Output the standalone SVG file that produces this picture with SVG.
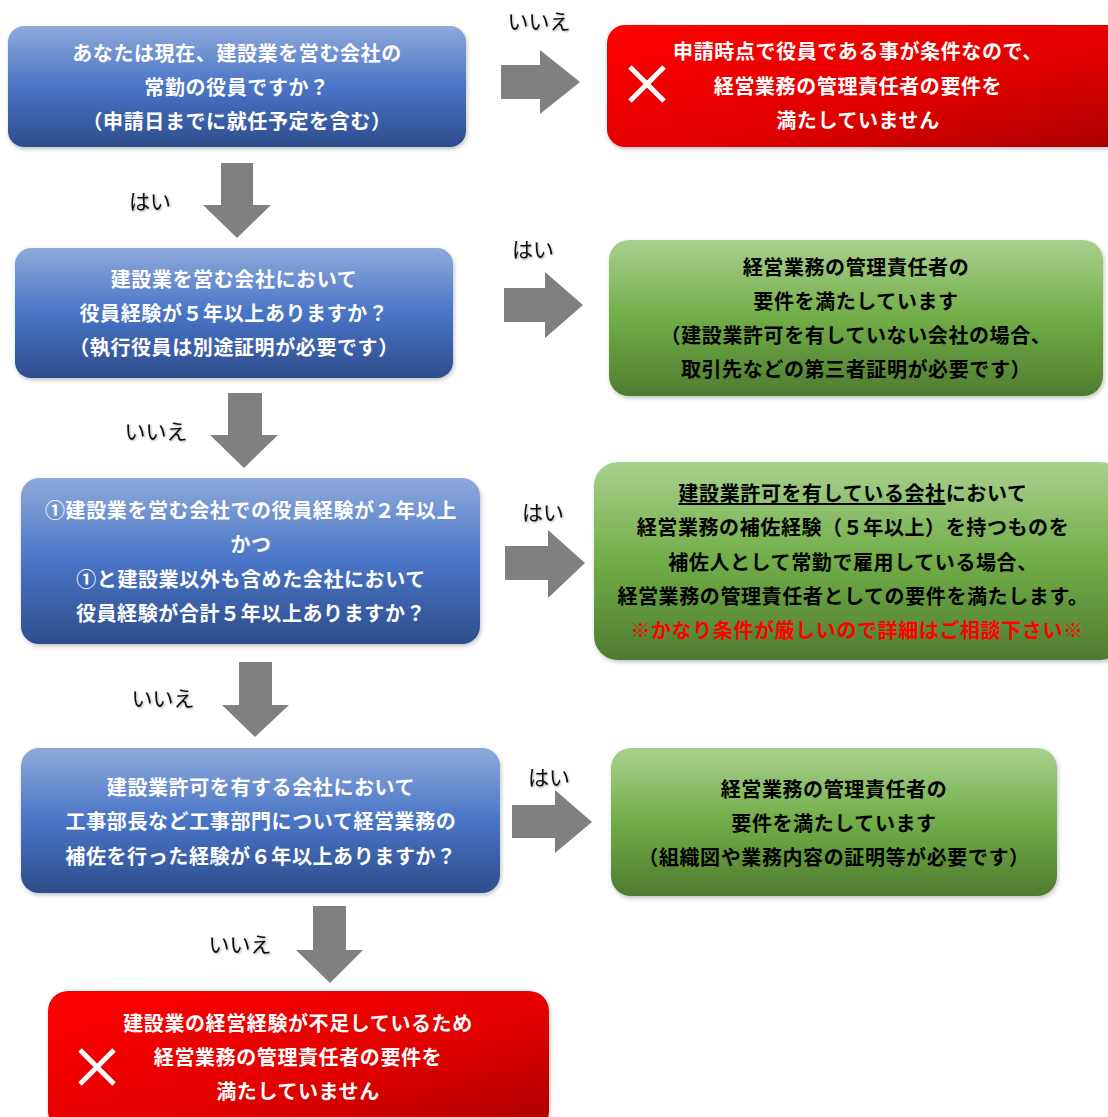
<svg xmlns="http://www.w3.org/2000/svg" width="1108" height="1117" viewBox="0 0 1108 1117">
<defs>
<linearGradient id="gBlue" x1="0" y1="0" x2="0" y2="1">
<stop offset="0" stop-color="#8eaadb"/><stop offset="0.5" stop-color="#4a74c6"/><stop offset="1" stop-color="#2e4d8c"/>
</linearGradient>
<linearGradient id="gGreen" x1="0" y1="0" x2="0" y2="1">
<stop offset="0" stop-color="#a9d18e"/><stop offset="0.5" stop-color="#71ad47"/><stop offset="1" stop-color="#4f7c30"/>
</linearGradient>
<linearGradient id="gRed" x1="0" y1="0" x2="1" y2="1">
<stop offset="0" stop-color="#ff0000"/><stop offset="0.6" stop-color="#e00000"/><stop offset="1" stop-color="#a80000"/>
</linearGradient>
<filter id="sh" x="-5%" y="-5%" width="110%" height="115%">
<feDropShadow dx="1" dy="2" stdDeviation="2" flood-color="#000" flood-opacity="0.25"/>
</filter>
<filter id="tsh" x="-10%" y="-10%" width="120%" height="130%">
<feDropShadow dx="1" dy="1" stdDeviation="0.8" flood-color="#000" flood-opacity="0.35"/>
</filter>
</defs>
<style>
.t{font-family:"Noto Sans CJK JP","Noto Sans",sans-serif;font-size:20px;font-weight:bold;text-anchor:middle;dominant-baseline:central;letter-spacing:0.6px;}
.w{fill:#fff;}
.k{fill:#000;}
.r{fill:#ff0000;}
.lb{font-family:"Noto Sans CJK JP","Noto Sans",sans-serif;font-size:21px;fill:#111;text-anchor:middle;dominant-baseline:central;}
.arr{fill:#808080;}
.x{stroke:#fff;stroke-width:5;}
</style>
<rect width="1108" height="1117" fill="#fff"/>

<g id="connectors">
<polygon class="arr" points="501,65 540,65 540,50 580,82 540,114 540,99 501,99"/>
<polygon class="arr" points="221,163 253,163 253,205 271,205 237,238 203,205 221,205"/>
<polygon class="arr" points="504,288 545,288 545,272 583,305 545,338 545,322 504,322"/>
<polygon class="arr" points="228,393 262,393 262,435 278,435 244,468 210,435 228,435"/>
<polygon class="arr" points="505,546 548,546 548,530 585,563 548,598 548,580 505,580"/>
<polygon class="arr" points="239,662 272,662 272,705 289,705 255,737 222,705 239,705"/>
<polygon class="arr" points="512,805 555,805 555,790 592,822 555,853 555,838 512,838"/>
<polygon class="arr" points="313,906 346,906 346,950 363,950 330,983 296,950 313,950"/>
<text class="lb" x="539" y="20" filter="url(#tsh)">いいえ</text>
<text class="lb" x="150" y="200" filter="url(#tsh)">はい</text>
<text class="lb" x="533" y="248" filter="url(#tsh)">はい</text>
<text class="lb" x="156" y="430" filter="url(#tsh)">いいえ</text>
<text class="lb" x="543" y="511" filter="url(#tsh)">はい</text>
<text class="lb" x="163" y="697" filter="url(#tsh)">いいえ</text>
<text class="lb" x="549" y="776" filter="url(#tsh)">はい</text>
<text class="lb" x="240" y="943" filter="url(#tsh)">いいえ</text>
</g>

<g id="q1">
<rect x="8" y="26" width="458" height="121" rx="16" fill="url(#gBlue)" filter="url(#sh)"/>
<text class="t w" x="237" y="52">あなたは現在、建設業を営む会社の</text>
<text class="t w" x="237" y="86">常勤の役員ですか？</text>
<text class="t w" x="237" y="120">（申請日までに就任予定を含む）</text>
</g>

<g id="ng1">
<rect x="607" y="25" width="520" height="122" rx="18" fill="url(#gRed)" filter="url(#sh)"/>
<line class="x" x1="630" y1="67" x2="664" y2="101"/>
<line class="x" x1="664" y1="67" x2="630" y2="101"/>
<text class="t w" x="858" y="50">申請時点で役員である事が条件なので、</text>
<text class="t w" x="858" y="85">経営業務の管理責任者の要件を</text>
<text class="t w" x="858" y="119">満たしていません</text>
</g>

<g id="q2">
<rect x="15" y="248" width="438" height="130" rx="16" fill="url(#gBlue)" filter="url(#sh)"/>
<text class="t w" x="234" y="278">建設業を営む会社において</text>
<text class="t w" x="234" y="312">役員経験が５年以上ありますか？</text>
<text class="t w" x="234" y="346">（執行役員は別途証明が必要です）</text>
</g>

<g id="ok1">
<rect x="609" y="240" width="494" height="156" rx="20" fill="url(#gGreen)" filter="url(#sh)"/>
<text class="t k" x="856" y="266">経営業務の管理責任者の</text>
<text class="t k" x="856" y="300">要件を満たしています</text>
<text class="t k" x="856" y="334">（建設業許可を有していない会社の場合、</text>
<text class="t k" x="856" y="368">取引先などの第三者証明が必要です）</text>
</g>

<g id="q3">
<rect x="21" y="478" width="459" height="166" rx="18" fill="url(#gBlue)" filter="url(#sh)"/>
<text class="t w" x="251" y="509">①建設業を営む会社での役員経験が２年以上</text>
<text class="t w" x="251" y="543">かつ</text>
<text class="t w" x="251" y="578">①と建設業以外も含めた会社において</text>
<text class="t w" x="251" y="612">役員経験が合計５年以上ありますか？</text>
</g>

<g id="ok2">
<rect x="594" y="462" width="530" height="198" rx="24" fill="url(#gGreen)" filter="url(#sh)"/>
<text class="t k" x="853" y="492"><tspan text-decoration="underline">建設業許可を有している会社</tspan>において</text>
<text class="t k" x="853" y="526">経営業務の補佐経験（５年以上）を持つものを</text>
<text class="t k" x="853" y="561">補佐人として常勤で雇用している場合、</text>
<text class="t k" x="853" y="595">経営業務の管理責任者としての要件を満たします。</text>
<text class="t r" x="857" y="629">※かなり条件が厳しいので詳細はご相談下さい※</text>
</g>

<g id="q4">
<rect x="21" y="748" width="479" height="145" rx="18" fill="url(#gBlue)" filter="url(#sh)"/>
<text class="t w" x="261" y="786">建設業許可を有する会社において</text>
<text class="t w" x="261" y="820">工事部長など工事部門について経営業務の</text>
<text class="t w" x="261" y="855">補佐を行った経験が６年以上ありますか？</text>
</g>

<g id="ok3">
<rect x="611" y="748" width="446" height="148" rx="20" fill="url(#gGreen)" filter="url(#sh)"/>
<text class="t k" x="834" y="788">経営業務の管理責任者の</text>
<text class="t k" x="834" y="822">要件を満たしています</text>
<text class="t k" x="834" y="856">（組織図や業務内容の証明等が必要です）</text>
</g>

<g id="ng2">
<rect x="48" y="991" width="501" height="140" rx="20" fill="url(#gRed)" filter="url(#sh)"/>
<line class="x" x1="80" y1="1050" x2="114" y2="1084"/>
<line class="x" x1="114" y1="1050" x2="80" y2="1084"/>
<text class="t w" x="298" y="1022">建設業の経営経験が不足しているため</text>
<text class="t w" x="298" y="1056">経営業務の管理責任者の要件を</text>
<text class="t w" x="298" y="1090">満たしていません</text>
</g>
</svg>
